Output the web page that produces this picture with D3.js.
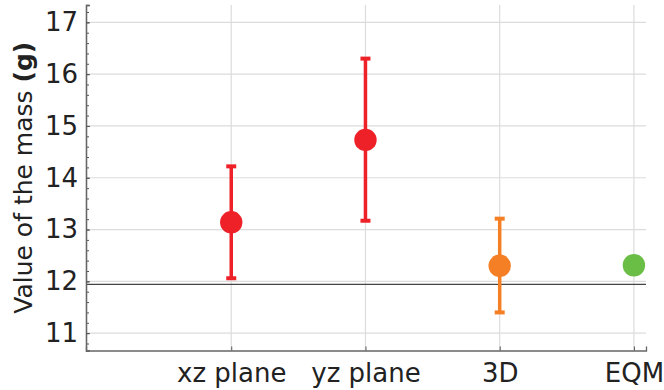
<!DOCTYPE html>
<html>
<head>
<meta charset="utf-8">
<script src="https://cdn.jsdelivr.net/npm/d3@7"></script>
<style>
  body { margin: 0; background: #fff; }
  svg { font-family: "DejaVu Sans", sans-serif; }
</style>
</head>
<body>
<div id="chart"></div>
<script>
const categories = ["xz plane", "yz plane", "3D", "EQM"];
const values = [13.14, 14.73, 12.30, 12.31];
const errLow = [12.06, 13.17, 11.40, null];
const errHigh = [14.22, 16.30, 13.21, null];
const colors = ["#ee2129", "#ee2129", "#f47f24", "#6abd45"];
const yTicks = [11, 12, 13, 14, 15, 16, 17];
const refLine = 11.94;

const W = 664, H = 390;
const mLeft = 86, mRight = 646, mTop = 5, mBottom = 350.5;

const svg = d3.select("#chart").append("svg")
    .attr("width", W).attr("height", H);

const x = d3.scaleLinear().domain([-0.082, 4.09]).range([mLeft, mRight]);
const y = d3.scaleLinear().domain([10.665, 17.335]).range([mBottom, mTop]);

// grid
svg.append("g").selectAll("line").data(yTicks).enter().append("line")
    .attr("x1", mLeft).attr("x2", mRight)
    .attr("y1", d => y(d)).attr("y2", d => y(d))
    .attr("stroke", "#dcdcdc").attr("stroke-width", 1.2);
svg.append("g").selectAll("line").data(categories).enter().append("line")
    .attr("x1", (d, i) => x(i + 1)).attr("x2", (d, i) => x(i + 1))
    .attr("y1", mTop).attr("y2", mBottom)
    .attr("stroke", "#dcdcdc").attr("stroke-width", 1.2);

// reference line
svg.append("line")
    .attr("x1", mLeft).attr("x2", mRight)
    .attr("y1", y(refLine)).attr("y2", y(refLine))
    .attr("stroke", "#444").attr("stroke-width", 1.3);

// y axis
const yAxis = svg.append("g").attr("transform", `translate(${mLeft},0)`);
yAxis.call(d3.axisLeft(y).tickValues(d3.range(10.8, 17.3, 0.2)).tickSize(-3).tickFormat(""));
yAxis.call(g => g.selectAll(".tick line").attr("stroke", "#555"));
const yMajor = svg.append("g").attr("transform", `translate(${mLeft},0)`)
    .call(d3.axisLeft(y).tickValues(yTicks).tickSize(-4).tickPadding(8).tickFormat(d3.format("d")));
yMajor.selectAll("text").attr("font-size", 26).attr("fill", "#222")
    .attr("font-family", "DejaVu Sans");
yMajor.selectAll(".tick line").attr("stroke", "#555");
svg.selectAll(".domain").attr("stroke", "#666").attr("stroke-width", 1.3);

// x axis
const xAxis = svg.append("g").attr("transform", `translate(0,${mBottom})`)
    .call(d3.axisBottom(x).tickValues([1, 2, 3, 4]).tickSize(-4).tickPadding(13)
        .tickFormat(d => categories[d - 1]));
xAxis.selectAll("text").attr("font-size", 26).attr("fill", "#222")
    .attr("font-family", "DejaVu Sans");
xAxis.selectAll(".tick line").attr("stroke", "#555");
xAxis.select(".domain").attr("stroke", "#666").attr("stroke-width", 1.3);

// error bars
const bars = categories.map((c, i) => ({ i, lo: errLow[i], hi: errHigh[i], v: values[i], col: colors[i] }));
const withErr = bars.filter(d => d.lo != null);
svg.append("g").selectAll("line").data(withErr).enter().append("line")
    .attr("x1", d => x(d.i + 1)).attr("x2", d => x(d.i + 1))
    .attr("y1", d => y(d.lo)).attr("y2", d => y(d.hi))
    .attr("stroke", d => d.col).attr("stroke-width", 3.5);
["lo", "hi"].forEach(k => {
  svg.append("g").selectAll("line").data(withErr).enter().append("line")
    .attr("x1", d => x(d.i + 1) - 5).attr("x2", d => x(d.i + 1) + 5)
    .attr("y1", d => y(d[k])).attr("y2", d => y(d[k]))
    .attr("stroke", d => d.col).attr("stroke-width", 4);
});

// markers
svg.append("g").selectAll("circle").data(bars).enter().append("circle")
    .attr("cx", d => x(d.i + 1)).attr("cy", d => y(d.v))
    .attr("r", 11.2).attr("fill", d => d.col);

// y label
const lbl = svg.append("text")
    .attr("transform", `translate(32,${(mTop + mBottom) / 2}) rotate(-90)`)
    .attr("text-anchor", "middle").attr("font-size", 25).attr("fill", "#222");
lbl.append("tspan").text("Value of the mass ");
lbl.append("tspan").attr("font-weight", "bold").text("(g)");
</script>
</body>
</html>
